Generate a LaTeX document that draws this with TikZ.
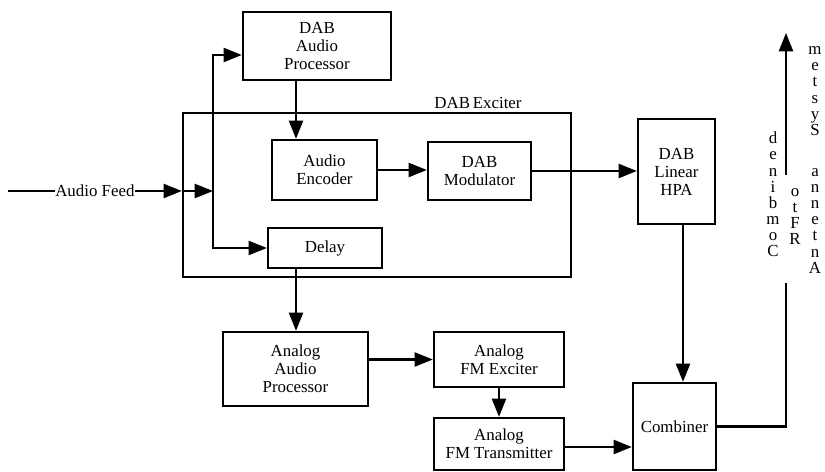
\documentclass[tikz,border=0pt]{standalone}
\usepackage{fontspec}
\setmainfont{Liberation Serif}
\usetikzlibrary{arrows.meta, positioning, calc}

\tikzset{
  blk/.style={draw, line width=1.6pt, inner sep=0pt, align=center,
              font=\fontsize{12}{12.8}\selectfont},
  arr/.style={-{Triangle[length=13pt, width=10pt]}, line width=1.6pt},
  vtxt/.style={inner sep=0pt, align=center,
               font=\fontsize{12}{11.5}\selectfont},
}

\begin{document}
\begin{tikzpicture}[x=0.025cm, y=-0.025cm]
    \useasboundingbox (0,0) rectangle (825,472);
    % DAB path
    \node[blk, minimum width=3.7cm, minimum height=1.7cm]
      (dabproc) at (317,46) {DAB\\Audio\\Processor};
    \node[blk, minimum width=9.7cm, minimum height=4.1cm]
      (exciter) at (377,195) {};
    \node[anchor=base, inner sep=0pt, font=\fontsize{12}{12.8}\selectfont]
      (exclabel) at (478,109) {DAB\,Exciter};
    \node[blk, minimum width=2.625cm, minimum height=1.5cm]
      (enc) at (324.5,170) {Audio\\Encoder};
    \node[blk, minimum width=2.575cm, minimum height=1.45cm]
      (mod) at (479.5,171) {DAB\\Modulator};
    \node[blk, minimum width=2.85cm, minimum height=1cm]
      (delay) at (325,248) {Delay};
    \node[blk, minimum width=1.925cm, minimum height=2.625cm]
      (hpa) at (676.5,171.5) {DAB\\Linear\\HPA};
    % analog path
    \node[blk, minimum width=3.625cm, minimum height=1.85cm]
      (aap) at (295.5,369) {Analog\\Audio\\Processor};
    \node[blk, minimum width=3.25cm, minimum height=1.375cm]
      (fmexc) at (499,359.5) {Analog\\FM Exciter};
    \node[blk, minimum width=3.25cm, minimum height=1.3cm]
      (fmtx) at (499,444) {Analog\\FM Transmitter};
    \node[blk, minimum width=2.075cm, minimum height=2.175cm]
      (comb) at (674.5,426.5) {Combiner};
    % output label
    \node[vtxt] (combtxt) at (773,194.5) {d\\e\\n\\i\\b\\m\\o\\C};
    \node[vtxt] (rftxt) at (795,216.5) {o\\t\\F\\R};
    \node[vtxt] (anttxt) at (815,160)
      {m\\e\\t\\s\\y\\S\\[17.5pt]a\\n\\n\\e\\t\\n\\A};

    \coordinate (feedin) at (8,191);
    \coordinate (split) at (213,191);
    \coordinate (gaplo) at (786,283);
    \coordinate (gaphi) at (786,175);
    \coordinate (antenna) at (786,33);

    \draw[arr] (feedin) -- node[fill=white, inner xsep=0.5pt, inner ysep=1pt,
        font=\fontsize{12}{12.8}\selectfont] (feedlbl) {Audio Feed}
      (exciter.west |- feedin);
    \draw[arr] (exciter.west |- feedin) -- (split);
    \draw[arr] (split) |- (dabproc.west |- 0,55);
    \draw[arr] (split) |- (delay.west);
    \draw[arr] (dabproc.south -| 296,0) -- (enc.north -| 296,0);
    \draw[arr] (enc.east) -- (mod.west |- enc.east);
    \draw[arr] (mod.east) -- (hpa.west |- mod.east);
    \draw[arr] (delay.south -| 296,0) -- (aap.north -| 296,0);
    \draw[arr] (aap.east |- fmexc.west) -- (fmexc.west);
    \draw[arr] (fmexc.south) -- (fmtx.north);
    \draw[arr] (fmtx.east |- 0,447) -- (comb.west |- 0,447);
    \draw[arr] (hpa.south -| 683,0) -- (comb.north -| 683,0);
    \draw[line width=1.6pt] (comb.east) -| (gaplo);
    \draw[arr] (gaphi) -- (antenna);
\end{tikzpicture}
\end{document}
